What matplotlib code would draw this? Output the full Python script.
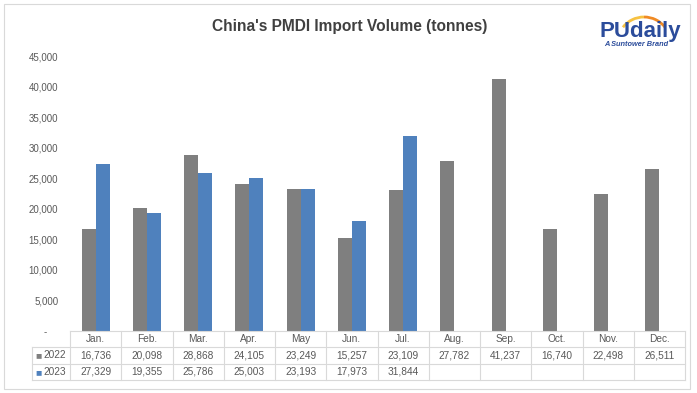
import matplotlib.pyplot as plt
from matplotlib.patches import Rectangle, Arc
from matplotlib.transforms import blended_transform_factory

plt.rcParams['font.family'] = ['Liberation Sans', 'DejaVu Sans']

# donnees
mois = ['Jan.', 'Feb.', 'Mar.', 'Apr.', 'May', 'Jun.', 'Jul.', 'Aug.', 'Sep.', 'Oct.', 'Nov.', 'Dec.']
vol_2022 = [16736, 20098, 28868, 24105, 23249, 15257, 23109, 27782, 41237, 16740, 22498, 26511]
vol_2023 = [27329, 19355, 25786, 25003, 23193, 17973, 31844]
annees = ['2022', '2023']
yticks = [0, 5000, 10000, 15000, 20000, 25000, 30000, 35000, 40000, 45000]

gris = '#7F7F7F'
bleu = '#4F81BD'
texte = '#595959'
trait = '#D9D9D9'

W, H = 697, 393
fig = plt.figure(figsize=(W / 100, H / 100), dpi=100)

# cadre exterieur
fig.patches.append(Rectangle((4 / W, 1 - 389 / H), 686 / W, 385 / H, transform=fig.transFigure,
                             fill=False, edgecolor=trait, lw=0.8))

ax = fig.add_axes([70 / W, 1 - 331 / H, 615 / W, 275 / H])
x = list(range(len(mois)))
w = 0.275
ax.bar([i - w / 2 for i in x], vol_2022, width=w, color=gris)
ax.bar([i + w / 2 for i in range(len(vol_2023))], vol_2023, width=w, color=bleu)
ax.set_xlim(-0.5, len(mois) - 0.5)
ax.set_ylim(0, 45000)
ax.set_yticks(yticks)
ax.set_yticklabels(['-    ' if v == 0 else f'{v:,}' for v in yticks], fontsize=7, color=texte)
ax.tick_params(axis='y', length=0, pad=8.5)
ax.set_xticks([])
for s in ax.spines.values():
    s.set_visible(False)

# tableau de donnees sous le graphique
tr = blended_transform_factory(ax.transData, ax.transAxes)
y_haut, y1, y2, y_bas = 0.0, -16 / 275, -32.5 / 275, -49 / 275
x_leg = -0.5 - 38 / 51.25
kw = dict(transform=tr, clip_on=False, color=trait, lw=0.8)
ax.plot([-0.5, 11.5], [y_haut, y_haut], **kw)
for yy in (y1, y2, y_bas):
    ax.plot([x_leg, 11.5], [yy, yy], **kw)
for k in range(len(mois) + 1):
    ax.plot([k - 0.5, k - 0.5], [y_haut, y_bas], **kw)
ax.plot([x_leg, x_leg], [y1, y_bas], **kw)

tkw = dict(transform=tr, ha='center', va='center', fontsize=7.3, color=texte, clip_on=False)
for i, m in enumerate(mois):
    ax.text(i, (y_haut + y1) / 2, m, **tkw)
    ax.text(i, (y1 + y2) / 2, f'{vol_2022[i]:,}', **tkw)
for i, v in enumerate(vol_2023):
    ax.text(i, (y2 + y_bas) / 2, f'{v:,}', **tkw)
for yy, an, c in [((y1 + y2) / 2, annees[0], gris), ((y2 + y_bas) / 2, annees[1], bleu)]:
    ax.text(x_leg + 0.06, yy, '■', transform=tr, ha='left', va='center', fontsize=7.5, color=c, clip_on=False)
    ax.text(-0.5 - 4 / 51.25, yy, an, transform=tr, ha='right', va='center', fontsize=7.3, color=texte,
            clip_on=False)

fig.text(350 / W, 1 - 27 / H, "China's PMDI Import Volume (tonnes)", ha='center', va='center',
         fontsize=11.2, fontweight='bold', color='#404040')

# logo PUdaily
lg = fig.add_axes([590 / W, 1 - 55 / H, 100 / W, 45 / H])
lg.set_xlim(590, 690)
lg.set_ylim(55, 10)
lg.axis('off')
lg.add_patch(Arc((644, 42), 52, 50, theta1=215, theta2=270, color='#F7C242', lw=2))
lg.add_patch(Arc((644, 42), 52, 50, theta1=270, theta2=325, color='#F08A24', lw=2))
lg.text(640, 32, 'PUdaily', ha='center', va='center', fontsize=16, fontweight='bold', color='#2B4C9B')
lg.text(636, 44.5, 'A Suntower Brand', ha='center', va='center', fontsize=5.3, fontstyle='italic',
        fontweight='bold', color='#2B4C9B')

fig.savefig('out.png', dpi=100)
